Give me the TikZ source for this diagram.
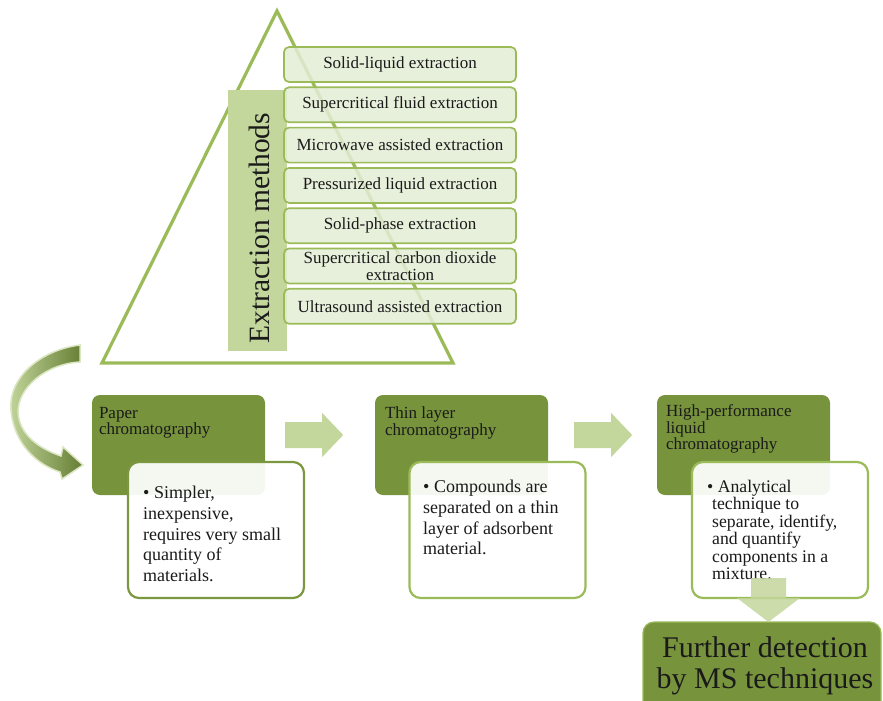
\documentclass[tikz,border=0pt]{standalone}
\usepackage{fontspec}
\setmainfont{Liberation Serif}
\definecolor{dgreen}{HTML}{77933C}
\definecolor{lgreen}{HTML}{9BBB59}
\definecolor{mgreen}{HTML}{C3D69B}
\definecolor{pale}{HTML}{E3EDD5}
\definecolor{ink}{HTML}{1A1A1A}
\tikzset{
  tri/.style={draw=lgreen, line width=3.2pt, line join=miter},
  method/.style={draw=lgreen, line width=1.7pt, fill=pale, fill opacity=0.85,
    text opacity=1, rounded corners=5pt, minimum width=232pt, minimum height=35pt,
    inner sep=0pt, align=center, text=ink, font=\fontsize{17}{17}\selectfont},
  stage/.style={fill=dgreen, rounded corners=8pt, minimum width=173pt,
    minimum height=100pt, inner sep=0pt},
  note/.style={line width=2.2pt, fill=white, fill opacity=0.93,
    rounded corners=11pt, minimum width=176pt, minimum height=136pt, inner sep=0pt},
  stagetitle/.style={anchor=north west, inner sep=0pt, align=left, text=ink,
    font=\fontsize{17}{16.3}\selectfont},
  notetext/.style={anchor=north west, inner sep=0pt, align=left, text=ink,
    font=\fontsize{18}{20.7}\selectfont},
  blockarrow/.style={fill=mgreen, draw=none},
}
\newcommand{\indentline}{\hspace*{5pt}}
\begin{document}
\begin{tikzpicture}[x=1pt,y=-1pt]
\useasboundingbox (0,0) rectangle (883,701);

% pyramid outline
\coordinate (apex) at (277,11);
\coordinate (baseL) at (102,363);
\coordinate (baseR) at (453,363);
\draw[tri] (apex) -- (baseL) -- (baseR) -- cycle;

% vertical title bar
\node[fill=mgreen, minimum width=59pt, minimum height=261pt, inner sep=0pt] (bar) at (257.5,220.5) {};
\node[rotate=90, inner sep=0pt, text=ink, font=\fontsize{29.5}{29.5}\selectfont] (bartext) at (259,228) {Extraction methods};

% list of extraction methods
\node[method] (m1) at (400,64.5)  {Solid-liquid extraction};
\node[method] (m2) at (400,104.8) {Supercritical fluid extraction};
\node[method] (m3) at (400,145.1) {Microwave assisted extraction};
\node[method] (m4) at (400,185.4) {Pressurized liquid extraction};
\node[method] (m5) at (400,225.7) {Solid-phase extraction};
\node[method] (m6) at (400,266.0) {Supercritical carbon dioxide\\extraction};
\node[method] (m7) at (400,306.3) {Ultrasound assisted extraction};

% curved arrow leading down to the first technique
\shade[left color=lgreen!60!white, right color=dgreen!85!black, draw=mgreen!60!white, line width=1.5pt]
  (80,345) .. controls (40,350) and (8,378) .. (11,410)
  .. controls (14,445) and (38,465) .. (60,472)
  -- (62,479) -- (83,465) -- (63,447) -- (61,456)
  .. controls (40,449) and (19,435) .. (18,412)
  .. controls (18,388) and (45,364) .. (80,362) -- cycle;

% chromatography stages
\node[stage] (s1) at (178.5,445) {};
\node[stage] (s2) at (461.5,445) {};
\node[stage] (s3) at (743.5,445) {};

\node[stagetitle] (s1t) at ([shift={(7,12)}]s1.north west) {Paper\\chromatography};
\node[stagetitle] (s2t) at ([shift={(10,12)}]s2.north west) {Thin layer\\chromatography};
\node[stagetitle] (s3t) at ([shift={(9,10)}]s3.north west) {High-performance\\liquid\\chromatography};

% description cards
\node[note, draw=dgreen!90!lgreen] (n1) at (216,530) {};
\node[note, draw=lgreen] (n2) at (497.5,530) {};
\node[note, draw=lgreen] (n3) at (780,530) {};

\node[notetext] (n1t) at (143,486) {\textbullet\ Simpler,\\inexpensive,\\requires very small\\quantity of\\materials.};
\node[notetext] (n2t) at (423,480) {\textbullet\ Compounds are\\separated on a thin\\layer of adsorbent\\material.};
\node[notetext, font=\fontsize{17.7}{17.4}\selectfont] (n3t) at (707,480)
  {\textbullet\ Analytical\\\indentline technique to\\\indentline separate, identify,\\\indentline and quantify\\\indentline components in a\\\indentline mixture.};

% block arrows between stages
\fill[blockarrow] ([shift={(20,-23)}]s1.east)
  -- ++(37,0) -- ++(0,-9) -- ++(21,22) -- ++(-21,22) -- ++(0,-9) -- ++(-37,0) -- cycle;
\fill[blockarrow] ([shift={(26,-23)}]s2.east)
  -- ++(37,0) -- ++(0,-9) -- ++(21,22) -- ++(-21,22) -- ++(0,-9) -- ++(-37,0) -- cycle;

% final detection step
\node[fill=dgreen, draw=lgreen, line width=1.2pt, rounded corners=11pt, minimum width=238pt,
  minimum height=92pt, inner sep=0pt] (ms) at (762,668) {};
\node[inner sep=0pt, align=center, text=ink, font=\fontsize{30}{30.5}\selectfont] (mst) at (765,666)
  {Further detection\\by MS techniques};

% arrow from the last card to the detection step
\fill[blockarrow, fill opacity=0.85] (751,578) -- (786,578) -- (786,598) -- (800,598)
  -- (768.5,622) -- (737,598) -- (751,598) -- cycle;
\end{tikzpicture}
\end{document}
